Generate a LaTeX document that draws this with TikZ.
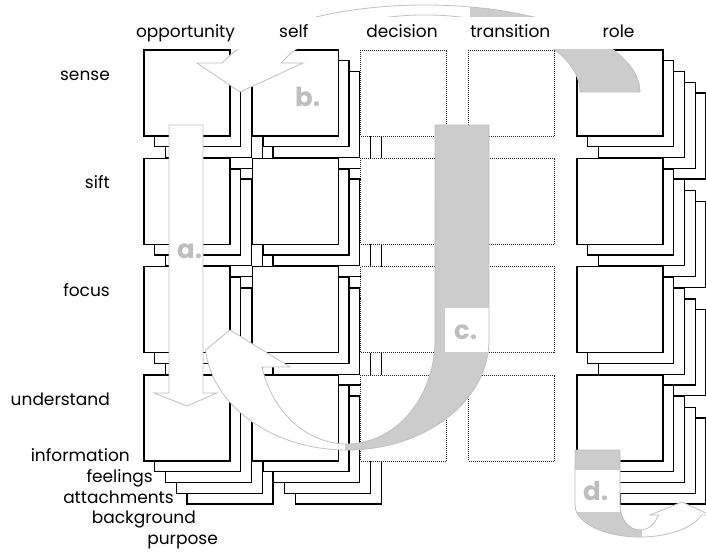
\documentclass[tikz,border=0pt]{standalone}
\usepackage{fontspec}
\setmainfont{Poppins}
\usepackage{tikz}
\usetikzlibrary{positioning}
\definecolor{bandgray}{RGB}{204,204,204}
\definecolor{edgegray}{RGB}{192,192,192}
\definecolor{lettergray}{RGB}{190,190,190}
\definecolor{dotgray}{RGB}{40,40,40}

% outlines of the four annotation arrows (x right, y down)
\newcommand{\arrowApath}{(169,125) -- (203,125) -- (203,393) -- (217,393) -- (187,406) -- (154,393) -- (169,393) -- cycle}
\newcommand{\arrowBpath}{(640,92) arc[start angle=0, end angle=-160.5, x radius=215, y radius=87] -- (197,63) -- (240,92) -- (303,63) -- (281.4,63) arc[start angle=-157.9, end angle=0, x radius=155, y radius=77] -- cycle}
\newcommand{\arrowCpath}{(435,125) -- (489,125) -- (489,340) arc[start angle=0, end angle=174.8, x radius=142, y radius=110] -- (230,330) -- (290,367) -- (262,367) arc[start angle=164.95, end angle=0, x radius=88, y radius=104] -- cycle}
\newcommand{\arrowDpath}{(575,450) -- (620,450) -- (620,505) arc[start angle=180, end angle=23.6, x radius=20, y radius=25] -- (650,515) -- (682,502) -- (710,515) -- (701.7,515) arc[start angle=18.2, end angle=180, x radius=65, y radius=32] -- cycle}

\begin{document}
\begin{tikzpicture}[
  x=1pt, y=-1pt,
  font=\fontsize{17}{20}\selectfont,
  layerbox/.style={draw=black, line width=1.3pt, fill=white, minimum size=86pt, inner sep=0pt, outer sep=0pt, anchor=north west},
  openbox/.style={draw=dotgray, densely dotted, line width=1pt, fill=white, minimum size=86pt, inner sep=0pt, outer sep=0pt, anchor=north west},
  arrowedge/.style={draw=edgegray, line width=0.8pt},
  letter/.style={text=lettergray, font=\fontsize{26}{28}\selectfont\bfseries, anchor=base west, inner sep=0pt},
  every node/.style={inner sep=0pt}
]
\useasboundingbox (0,0) rectangle (706,552);

% cells, row by row; stacks drawn back to front
\foreach \row/\cy in {sense/50, sift/158.3, focus/266.7, understand/375} {
  \foreach \col/\cx/\kind in {opportunity/144/1, self/252.3/1, decision/360.5/0, transition/468.8/0, role/577/1} {
    \ifnum\kind=1
      \foreach \k in {4,3,2,1}
        \node[layerbox] (\col-\row-\k) at (\cx+10.75*\k,\cy+10.75*\k) {};
      \node[layerbox] (\col-\row) at (\cx,\cy) {};
    \else
      \node[openbox] (\col-\row) at (\cx,\cy) {};
    \fi
  }
}

% a.
\draw[arrowedge, fill=white] \arrowApath;
\node[letter] (a) at (177,258) {a.};

% b.
\fill[white] \arrowBpath;
\begin{scope}
  \clip \arrowBpath;
  \fill[bandgray] (470,0) rectangle (706,100);
\end{scope}
\draw[arrowedge] \arrowBpath;
\node[letter] (b) at (295,106) {b.};

% c.
\fill[white] \arrowCpath;
\begin{scope}
  \clip \arrowCpath;
  \fill[bandgray] (345,100) rectangle (706,552);
\end{scope}
\fill[white] (445,308) rectangle (489,352);
\draw[arrowedge] \arrowCpath;
\node[letter] (c) at (454,339) {c.};

% d.
\fill[white] \arrowDpath;
\begin{scope}
  \clip \arrowDpath;
  \fill[bandgray] (560,440) rectangle (642,552);
\end{scope}
\fill[white] (575,470) rectangle (620,512);
\draw[arrowedge] \arrowDpath;
\node[letter] (d) at (583,500) {d.};

% label strip over the top of arrow b
\fill[white] (0,17) rectangle (706,49.3);

\foreach \col/\cx in {opportunity/144, self/252.3, decision/360.5, transition/468.8, role/577}
  \node[anchor=base] (head-\col) at (\cx+41.5,37) {\col};
\foreach \row/\cy in {sense/50, sift/158.3, focus/266.7, understand/375}
  \node[anchor=base east] (side-\row) at (110,\cy+30) {\row};
\foreach \lay/\rx/\by in {information/130/461, feelings/153/482, attachments/174/503, background/196/523, purpose/218/544}
  \node[anchor=base east] (layer-\lay) at (\rx,\by) {\lay};
\end{tikzpicture}
\end{document}
